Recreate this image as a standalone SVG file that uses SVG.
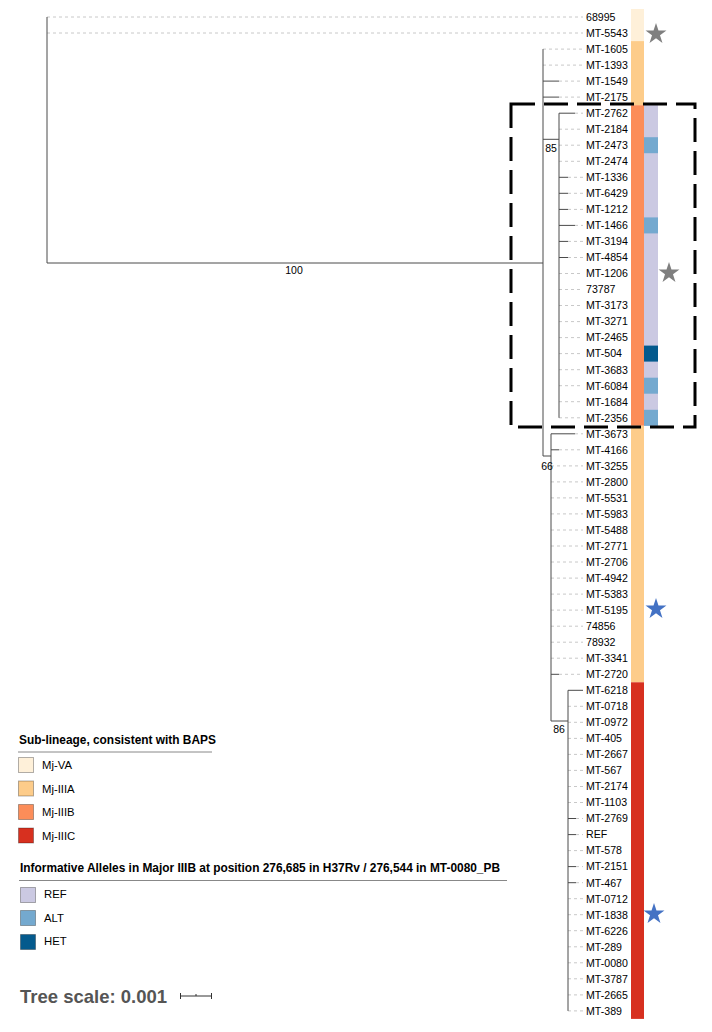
<svg xmlns="http://www.w3.org/2000/svg" xmlns:xlink="http://www.w3.org/1999/xlink" width="712" height="1032" viewBox="0 0 712 1032">
<style>
text{font-family:"Liberation Sans",Arial,sans-serif;fill:#000}
.lbl{font-size:10.6px}
.bs{font-size:10.5px}
.br{stroke:#4a4a4a;stroke-width:1;fill:none}
.lf{stroke:#c8c8c8;stroke-width:1;stroke-dasharray:3 3}
.lt{font-size:11.9px;font-weight:bold}
.li{font-size:11.3px}
.sw{stroke:#000;stroke-opacity:0.3;stroke-width:1}
</style>
<defs>
<polygon id="star" points="0,-11 2.47,-3.4 10.46,-3.4 3.99,1.3 6.47,8.9 0,4.2 -6.47,8.9 -3.99,1.3 -10.46,-3.4 -2.47,-3.4"/>
</defs>
<rect width="712" height="1032" fill="#fff"/>

<!-- colour strips -->
<g id="strip-lineage">
<rect x="631" y="9" width="13" height="32.1" fill="#fef0d9"/>
<rect x="631" y="41.1" width="13" height="64.1" fill="#fdcc8a"/>
<rect x="631" y="105.2" width="13" height="320.6" fill="#fc8d59"/>
<rect x="631" y="425.8" width="13" height="256.5" fill="#fdcc8a"/>
<rect x="631" y="682.3" width="13" height="336.6" fill="#d7301f"/>
</g>
<g id="strip-alleles">
<rect x="644" y="105.2" width="14" height="320.6" fill="#cbc9e2"/>
<rect x="644" y="137.2" width="14" height="16" fill="#74a9cf"/>
<rect x="644" y="217.4" width="14" height="16" fill="#74a9cf"/>
<rect x="644" y="345.6" width="14" height="16" fill="#045a8d"/>
<rect x="644" y="377.7" width="14" height="16" fill="#74a9cf"/>
<rect x="644" y="409.8" width="14" height="16" fill="#74a9cf"/>
</g>

<!-- connectors -->
<g id="connectors">
<g class="lf">
<line x1="47" y1="17" x2="583" y2="17"/>
<line x1="47" y1="33" x2="583" y2="33"/>
<line x1="543" y1="49.1" x2="583" y2="49.1"/>
<line x1="543" y1="65.1" x2="583" y2="65.1"/>
<line x1="559" y1="81.1" x2="583" y2="81.1"/>
<line x1="559" y1="97.1" x2="583" y2="97.1"/>
<line x1="575" y1="113.2" x2="583" y2="113.2"/>
<line x1="559" y1="129.2" x2="583" y2="129.2"/>
<line x1="559" y1="145.2" x2="583" y2="145.2"/>
<line x1="559" y1="161.3" x2="583" y2="161.3"/>
<line x1="568" y1="177.3" x2="583" y2="177.3"/>
<line x1="568" y1="193.3" x2="583" y2="193.3"/>
<line x1="568" y1="209.4" x2="583" y2="209.4"/>
<line x1="575" y1="225.4" x2="583" y2="225.4"/>
<line x1="568" y1="241.4" x2="583" y2="241.4"/>
<line x1="568" y1="257.5" x2="583" y2="257.5"/>
<line x1="559" y1="273.5" x2="583" y2="273.5"/>
<line x1="559" y1="289.5" x2="583" y2="289.5"/>
<line x1="559" y1="305.5" x2="583" y2="305.5"/>
<line x1="559" y1="321.6" x2="583" y2="321.6"/>
<line x1="559" y1="337.6" x2="583" y2="337.6"/>
<line x1="559" y1="353.6" x2="583" y2="353.6"/>
<line x1="559" y1="369.7" x2="583" y2="369.7"/>
<line x1="559" y1="385.7" x2="583" y2="385.7"/>
<line x1="559" y1="401.7" x2="583" y2="401.7"/>
<line x1="559" y1="417.8" x2="583" y2="417.8"/>
<line x1="575" y1="433.8" x2="583" y2="433.8"/>
<line x1="559" y1="449.8" x2="583" y2="449.8"/>
<line x1="551" y1="465.9" x2="583" y2="465.9"/>
<line x1="551" y1="481.9" x2="583" y2="481.9"/>
<line x1="551" y1="497.9" x2="583" y2="497.9"/>
<line x1="551" y1="513.9" x2="583" y2="513.9"/>
<line x1="551" y1="530" x2="583" y2="530"/>
<line x1="551" y1="546" x2="583" y2="546"/>
<line x1="551" y1="562" x2="583" y2="562"/>
<line x1="551" y1="578.1" x2="583" y2="578.1"/>
<line x1="551" y1="594.1" x2="583" y2="594.1"/>
<line x1="551" y1="610.1" x2="583" y2="610.1"/>
<line x1="551" y1="626.2" x2="583" y2="626.2"/>
<line x1="551" y1="642.2" x2="583" y2="642.2"/>
<line x1="551" y1="658.2" x2="583" y2="658.2"/>
<line x1="559" y1="674.3" x2="583" y2="674.3"/>
<line x1="568" y1="706.3" x2="583" y2="706.3"/>
<line x1="568" y1="722.3" x2="583" y2="722.3"/>
<line x1="568" y1="738.4" x2="583" y2="738.4"/>
<line x1="568" y1="754.4" x2="583" y2="754.4"/>
<line x1="568" y1="770.4" x2="583" y2="770.4"/>
<line x1="568" y1="786.5" x2="583" y2="786.5"/>
<line x1="568" y1="802.5" x2="583" y2="802.5"/>
<line x1="576" y1="818.5" x2="583" y2="818.5"/>
<line x1="576" y1="834.6" x2="583" y2="834.6"/>
<line x1="568" y1="850.6" x2="583" y2="850.6"/>
<line x1="576" y1="866.6" x2="583" y2="866.6"/>
<line x1="576" y1="882.7" x2="583" y2="882.7"/>
<line x1="568" y1="898.7" x2="583" y2="898.7"/>
<line x1="568" y1="914.7" x2="583" y2="914.7"/>
<line x1="568" y1="930.7" x2="583" y2="930.7"/>
<line x1="568" y1="946.8" x2="583" y2="946.8"/>
<line x1="568" y1="962.8" x2="583" y2="962.8"/>
<line x1="568" y1="978.8" x2="583" y2="978.8"/>
<line x1="568" y1="994.9" x2="583" y2="994.9"/>
<line x1="568" y1="1010.9" x2="583" y2="1010.9"/>
</g>
<g class="br">
<path d="M47,17V263H543"/>
<path d="M543,49.1V456H551"/>
<path d="M543,139.3H559"/>
<path d="M559,113.2V417.8"/>
<path d="M551,433.8V721H568"/>
<path d="M568,690.3V1010.9"/>
<path d="M543,81.1H559M543,97.1H559"/>
<path d="M559,113.2H575M559,177.3H568M559,193.3H568M559,209.4H568M559,225.4H575M559,241.4H568M559,257.5H568"/>
<path d="M551,433.8H575M551,449.8H559M551,674.3H559"/>
<path d="M568,690.3H583M568,818.5H576M568,834.6H576M568,866.6H576M568,882.7H576"/>
</g>
</g>

<!-- bootstrap labels -->
<g id="bootstrap">
<text class="bs" x="294" y="274" text-anchor="middle">100</text>
<text class="bs" x="551" y="152" text-anchor="middle">85</text>
<text class="bs" x="547" y="470" text-anchor="middle">66</text>
<text class="bs" x="559" y="733" text-anchor="middle">86</text>
</g>

<!-- leaf nodes -->
<g id="leaves" class="lbl">
<g id="n1"><text class="lbl" x="586" y="20.8">68995</text></g>
<g id="n2"><text class="lbl" x="586" y="36.8">MT-5543</text></g>
<g id="n3"><text class="lbl" x="586" y="52.9">MT-1605</text></g>
<g id="n4"><text class="lbl" x="586" y="68.9">MT-1393</text></g>
<g id="n5"><text class="lbl" x="586" y="84.9">MT-1549</text></g>
<g id="n6"><text class="lbl" x="586" y="100.9">MT-2175</text></g>
<g id="n7"><text class="lbl" x="586" y="117">MT-2762</text></g>
<g id="n8"><text class="lbl" x="586" y="133">MT-2184</text></g>
<g id="n9"><text class="lbl" x="586" y="149">MT-2473</text></g>
<g id="n10"><text class="lbl" x="586" y="165.1">MT-2474</text></g>
<g id="n11"><text class="lbl" x="586" y="181.1">MT-1336</text></g>
<g id="n12"><text class="lbl" x="586" y="197.1">MT-6429</text></g>
<g id="n13"><text class="lbl" x="586" y="213.2">MT-1212</text></g>
<g id="n14"><text class="lbl" x="586" y="229.2">MT-1466</text></g>
<g id="n15"><text class="lbl" x="586" y="245.2">MT-3194</text></g>
<g id="n16"><text class="lbl" x="586" y="261.3">MT-4854</text></g>
<g id="n17"><text class="lbl" x="586" y="277.3">MT-1206</text></g>
<g id="n18"><text class="lbl" x="586" y="293.3">73787</text></g>
<g id="n19"><text class="lbl" x="586" y="309.3">MT-3173</text></g>
<g id="n20"><text class="lbl" x="586" y="325.4">MT-3271</text></g>
<g id="n21"><text class="lbl" x="586" y="341.4">MT-2465</text></g>
<g id="n22"><text class="lbl" x="586" y="357.4">MT-504</text></g>
<g id="n23"><text class="lbl" x="586" y="373.5">MT-3683</text></g>
<g id="n24"><text class="lbl" x="586" y="389.5">MT-6084</text></g>
<g id="n25"><text class="lbl" x="586" y="405.5">MT-1684</text></g>
<g id="n26"><text class="lbl" x="586" y="421.6">MT-2356</text></g>
<g id="n27"><text class="lbl" x="586" y="437.6">MT-3673</text></g>
<g id="n28"><text class="lbl" x="586" y="453.6">MT-4166</text></g>
<g id="n29"><text class="lbl" x="586" y="469.7">MT-3255</text></g>
<g id="n30"><text class="lbl" x="586" y="485.7">MT-2800</text></g>
<g id="n31"><text class="lbl" x="586" y="501.7">MT-5531</text></g>
<g id="n32"><text class="lbl" x="586" y="517.7">MT-5983</text></g>
<g id="n33"><text class="lbl" x="586" y="533.8">MT-5488</text></g>
<g id="n34"><text class="lbl" x="586" y="549.8">MT-2771</text></g>
<g id="n35"><text class="lbl" x="586" y="565.8">MT-2706</text></g>
<g id="n36"><text class="lbl" x="586" y="581.9">MT-4942</text></g>
<g id="n37"><text class="lbl" x="586" y="597.9">MT-5383</text></g>
<g id="n38"><text class="lbl" x="586" y="613.9">MT-5195</text></g>
<g id="n39"><text class="lbl" x="586" y="630">74856</text></g>
<g id="n40"><text class="lbl" x="586" y="646">78932</text></g>
<g id="n41"><text class="lbl" x="586" y="662">MT-3341</text></g>
<g id="n42"><text class="lbl" x="586" y="678.1">MT-2720</text></g>
<g id="n43"><text class="lbl" x="586" y="694.1">MT-6218</text></g>
<g id="n44"><text class="lbl" x="586" y="710.1">MT-0718</text></g>
<g id="n45"><text class="lbl" x="586" y="726.1">MT-0972</text></g>
<g id="n46"><text class="lbl" x="586" y="742.2">MT-405</text></g>
<g id="n47"><text class="lbl" x="586" y="758.2">MT-2667</text></g>
<g id="n48"><text class="lbl" x="586" y="774.2">MT-567</text></g>
<g id="n49"><text class="lbl" x="586" y="790.3">MT-2174</text></g>
<g id="n50"><text class="lbl" x="586" y="806.3">MT-1103</text></g>
<g id="n51"><text class="lbl" x="586" y="822.3">MT-2769</text></g>
<g id="n52"><text class="lbl" x="586" y="838.4">REF</text></g>
<g id="n53"><text class="lbl" x="586" y="854.4">MT-578</text></g>
<g id="n54"><text class="lbl" x="586" y="870.4">MT-2151</text></g>
<g id="n55"><text class="lbl" x="586" y="886.5">MT-467</text></g>
<g id="n56"><text class="lbl" x="586" y="902.5">MT-0712</text></g>
<g id="n57"><text class="lbl" x="586" y="918.5">MT-1838</text></g>
<g id="n58"><text class="lbl" x="586" y="934.5">MT-6226</text></g>
<g id="n59"><text class="lbl" x="586" y="950.6">MT-289</text></g>
<g id="n60"><text class="lbl" x="586" y="966.6">MT-0080</text></g>
<g id="n61"><text class="lbl" x="586" y="982.6">MT-3787</text></g>
<g id="n62"><text class="lbl" x="586" y="998.7">MT-2665</text></g>
<g id="n63"><text class="lbl" x="586" y="1014.7">MT-389</text></g>
</g>

<!-- highlight box -->
<g id="highlight-box">
<rect x="511" y="104" width="184" height="323" fill="none" stroke="#000" stroke-width="3" stroke-dasharray="24 9"/>
</g>

<!-- stars -->
<g id="stars">
<use xlink:href="#star" href="#star" x="656" y="34" fill="#7f7f7f"/>
<use xlink:href="#star" href="#star" x="669" y="273" fill="#7f7f7f"/>
<use xlink:href="#star" href="#star" x="656" y="609" fill="#4472c4"/>
<use xlink:href="#star" href="#star" x="654" y="914" fill="#4472c4"/>
</g>

<!-- legend 1 -->
<g id="legend-sublineage">
<text class="lt" x="19" y="744">Sub-lineage, consistent with BAPS</text>
<line x1="18" y1="752" x2="212" y2="752" stroke="#888" stroke-width="1"/>
<rect class="sw" x="18.5" y="757.5" width="15" height="15" fill="#fef0d9"/>
<text class="li" x="42" y="769">Mj-VA</text>
<rect class="sw" x="18.5" y="781" width="15" height="15" fill="#fdcc8a"/>
<text class="li" x="42" y="792.5">Mj-IIIA</text>
<rect class="sw" x="18.5" y="804.5" width="15" height="15" fill="#fc8d59"/>
<text class="li" x="42" y="816">Mj-IIIB</text>
<rect class="sw" x="18.5" y="828" width="15" height="15" fill="#d7301f"/>
<text class="li" x="42" y="839.5">Mj-IIIC</text>
</g>

<!-- legend 2 -->
<g id="legend-alleles">
<text class="lt" x="20" y="872">Informative Alleles in Major IIIB at position 276,685 in H37Rv / 276,544 in MT-0080_PB</text>
<line x1="19" y1="880.5" x2="507" y2="880.5" stroke="#888" stroke-width="1"/>
<rect class="sw" x="20.5" y="887.5" width="15" height="15" fill="#cbc9e2"/>
<text class="li" x="44" y="898">REF</text>
<rect class="sw" x="20.5" y="910.5" width="15" height="15" fill="#74a9cf"/>
<text class="li" x="44" y="921.5">ALT</text>
<rect class="sw" x="20.5" y="934.5" width="15" height="15" fill="#045a8d"/>
<text class="li" x="44" y="945">HET</text>
</g>

<!-- tree scale -->
<g id="tree-scale">
<text x="20" y="1003" style="font-size:18.5px;font-weight:bold;fill:#555">Tree scale: 0.001</text>
<path d="M180,996H212M180.5,993V999M211.5,993V999M196,994V996" stroke="#333" stroke-width="1" fill="none"/>
</g>
</svg>
